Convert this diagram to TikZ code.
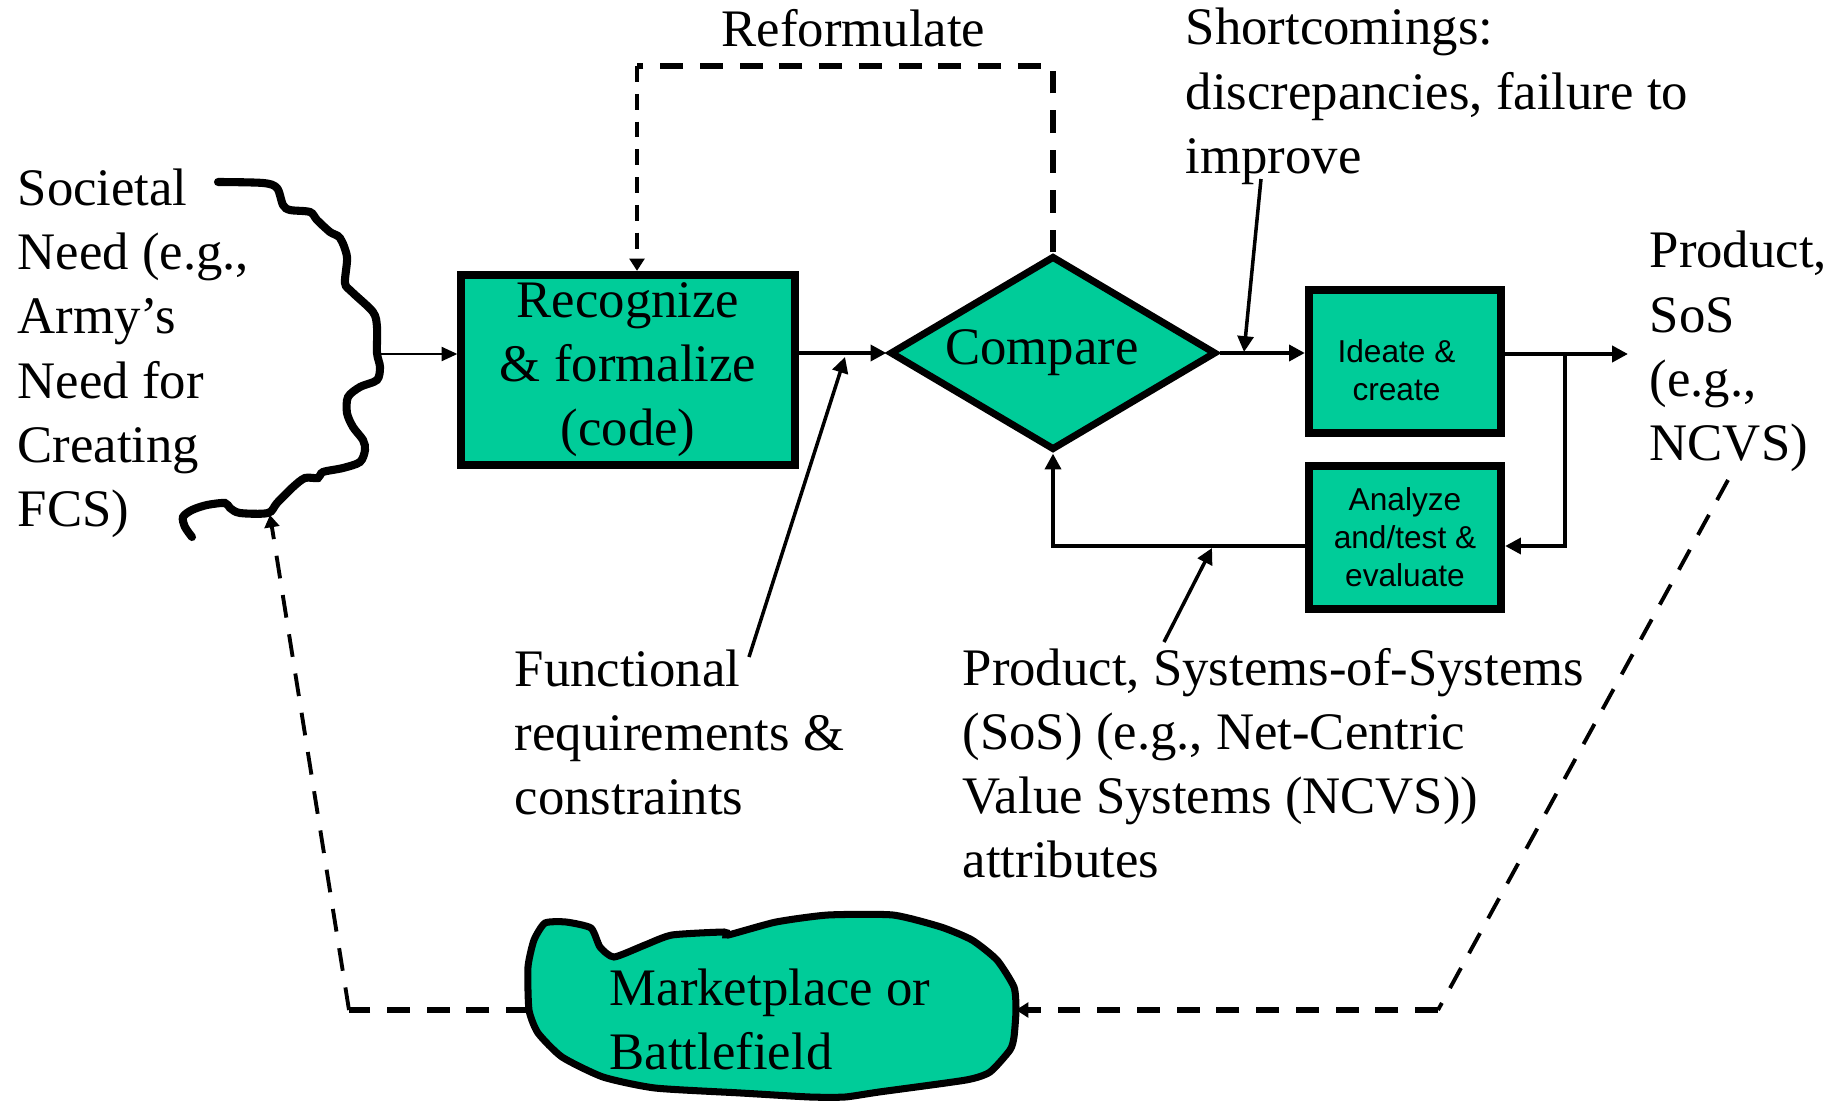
\documentclass[tikz,border=0pt]{standalone}
\usepackage{fontspec}
\setmainfont{Liberation Serif}
\setsansfont{Liberation Sans}
\usetikzlibrary{shapes.geometric,arrows.meta}
\definecolor{boxgreen}{HTML}{00CC99}
\newcommand{\bigfont}{\fontsize{15}{18.2}\selectfont}
\tikzset{
  bigtext/.style={inner sep=0pt,align=left,font=\bigfont,anchor=base west},
  procbox/.style={draw,line width=2.3pt,fill=boxgreen,align=center,inner sep=0pt},
  smallbox/.style={procbox,font=\sffamily\fontsize{9}{10.8}\selectfont,minimum width=1.92cm,minimum height=1.43cm},
  flow/.style={line width=1.15pt,-{Triangle[length=4.5pt,width=4.5pt]}},
  note/.style={line width=1pt,-{Triangle[length=4.5pt,width=4.5pt]}},
  thickdash/.style={line width=1.6pt,dash pattern=on 6.5pt off 4.8pt},
  thindash/.style={line width=1.1pt,dash pattern=on 6.5pt off 4.8pt},
  dashtip/.style={-{Triangle[length=3.5pt,width=4.2pt]}},
}
\begin{document}
\begin{tikzpicture}[x=0.01cm,y=-0.01cm]
\useasboundingbox (0,0) rectangle (1845,1103);
% blocks
\node[procbox,font=\bigfont,minimum width=3.33cm,minimum height=1.9cm] (recog) at (628,370) {Recognize\\\& formalize\\(code)};
\node[diamond,draw,line width=2pt,fill=boxgreen,aspect=1.68,minimum width=3.26cm,minimum height=1.94cm,inner sep=0pt,font=\bigfont] (comp) at (1053,353) {Compare\hspace*{0.22cm}};
\node[smallbox] (ideate) at (1405,361.5) {\rule{0pt}{11.4pt}Ideate \&\hspace*{0.17cm}\\create\hspace*{0.17cm}};
\node[smallbox] (analyze) at (1405,537.5) {Analyze\\and/test \&\\evaluate};
% societal need
\draw[line width=2.3pt,line cap=round] plot[smooth,tension=0.5] coordinates {(218,182) (263,183) (277,188) (283,205) (290,210) (310,212) (317,220) (330,232) (340,238) (347,257) (345,283) (352,292) (373,312) (377,327) (377,353) (380,367) (377,380) (360,387) (348,397) (347,413) (353,427) (363,440) (365,450) (360,462) (343,468) (323,472) (318,478) (305,478) (293,487) (277,503) (268,513) (240,513) (230,508) (225,503) (207,505) (192,510) (183,517) (185,527) (192,537)};
\node[bigtext] (need) at (17,526) {Societal\\Need (e.g.,\\Army’s\\Need for\\Creating\\FCS)};
% marketplace
\draw[line width=2pt,fill=boxgreen] plot[smooth cycle,tension=0.35] coordinates {(528,967) (534,940) (545,923) (566,922) (591,928) (600,947) (614,957) (645,945) (672,935) (724,932) (728,935) (776,922) (828,915) (893,915) (941,927) (972,940) (997,960) (1014,987) (1016,1010) (1014,1037) (1010,1050) (990,1072) (966,1080) (879,1092) (845,1097) (810,1097) (741,1093) (655,1088) (603,1077) (562,1057) (538,1033) (529,1010)};
\node[bigtext] (mkt) at (609,1069) {Marketplace or\\Battlefield};
% labels (anchored at the last baseline)
\node[bigtext] (reform) at (721,47) {Reformulate};
\node[bigtext] (short) at (1185,173) {Shortcomings:\\discrepancies, failure to\\improve};
\node[bigtext] (prod) at (1649,460) {Product,\\SoS\\(e.g.,\\NCVS)};
\node[bigtext] (func) at (514,814) {Functional\\requirements \&\\constraints};
\node[bigtext] (attr) at (962,877) {Product, Systems-of-Systems\\(SoS) (e.g., Net-Centric\\Value Systems (NCVS))\\attributes};
% points
\coordinate (needpt) at (380,354);
\coordinate (split) at (1565,354);
\coordinate (splitlow) at (1565,546);
\coordinate (outpt) at (1628,354);
\coordinate (backpt) at (1053,546);
\coordinate (refR) at (1053,66);
\coordinate (refL) at (637,66);
\coordinate (shortT) at (1261,179);
\coordinate (shortH) at (1244,352);
\coordinate (funcT) at (749,657);
\coordinate (funcH) at (845,357);
\coordinate (attrT) at (1164,642);
\coordinate (attrH) at (1212,548);
\coordinate (mktL) at (529,1010);
\coordinate (mktR) at (1016,1010);
\coordinate (fbL) at (349,1010);
\coordinate (needbot) at (270,515);
\coordinate (fbR) at (1438,1010);
\coordinate (prodbot) at (1728,480);
% flow
\draw[line width=0.6pt,-{Triangle[length=4.5pt,width=4pt]}] (needpt) -- (needpt -| recog.west);
\draw[flow] (recog.east |- comp.west) -- (comp.west);
\draw[flow] (comp.east) -- (comp.east -| ideate.west);
\draw[flow] (ideate.east |- split) -- (outpt);
\draw[flow] (split) -- (splitlow) -- (splitlow -| analyze.east);
\draw[flow] (analyze.west |- backpt) -- (backpt) -- (comp.south);
% reformulate loop
\draw[thickdash] (comp.north) -- (refR) -- (refL);
\draw[line width=1.1pt,dash pattern=on 4.5pt off 3.4pt,dashtip] (refL) -- (refL |- recog.north);
% notes
\draw[note] (shortT) -- (shortH);
\draw[note] (funcT) -- (funcH);
\draw[note] (attrT) -- (attrH);
% feedback through marketplace
\draw[thindash] (prodbot) -- (fbR);
\draw[thickdash,dashtip] (fbR) -- (mktR);
\draw[thickdash] (mktL) -- (fbL);
\draw[thindash,dashtip] (fbL) -- (needbot);
\end{tikzpicture}
\end{document}
